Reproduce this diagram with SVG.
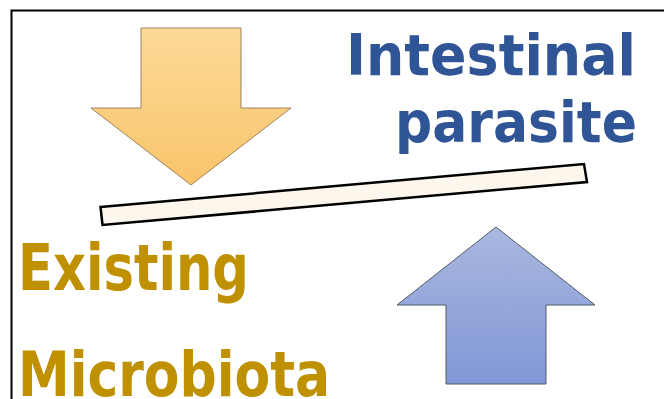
<svg xmlns="http://www.w3.org/2000/svg" width="664" height="399" viewBox="0 0 664 399">
<defs>
<linearGradient id="gDown" x1="0" y1="0" x2="0" y2="1">
<stop offset="0" stop-color="#fdda98"/>
<stop offset="1" stop-color="#f8c46a"/>
</linearGradient>
<linearGradient id="gUp" x1="0" y1="0" x2="0" y2="1">
<stop offset="0" stop-color="#a9b8e0"/>
<stop offset="1" stop-color="#8197d6"/>
</linearGradient>
<style>
.lbl{font-family:"Comic Sans MS","DejaVu Sans",sans-serif;font-weight:bold}
.blue{fill:#2f5597}
.gold{fill:#bf9000}
</style>
</defs>
<rect width="664" height="399" fill="#ffffff"/>
<path d="M11.5 399 V10.5 H664" fill="none" stroke="#000" stroke-width="2"/>
<g id="down-arrow">
<polygon points="141,28 241,28 241,108 291,108 191,185 91,108 141,108" fill="url(#gDown)" stroke="#a0805a" stroke-width="1"/>
</g>
<g id="up-arrow">
<polygon points="496,227 595,305 546,305 546,384 446,384 446,305 397,305" fill="url(#gUp)" stroke="#555a66" stroke-width="1"/>
</g>
<g id="balance-bar">
<polygon points="100.5,207 584,164 587,182 102.5,225" fill="#fdf6ec" stroke="#000" stroke-width="2.5" stroke-linejoin="miter"/>
</g>
<g id="intestinal-parasite">
<text class="lbl blue" x="346" y="75" font-size="57" textLength="290" lengthAdjust="spacingAndGlyphs">Intestinal</text>
<text class="lbl blue" x="395" y="142" font-size="57" textLength="242" lengthAdjust="spacingAndGlyphs">parasite</text>
</g>
<g id="existing-microbiota">
<text class="lbl gold" x="18" y="290" font-size="64" textLength="231" lengthAdjust="spacingAndGlyphs">Existing</text>
<text class="lbl gold" x="18" y="396" font-size="62" textLength="312" lengthAdjust="spacingAndGlyphs">Microbiota</text>
</g>
</svg>
